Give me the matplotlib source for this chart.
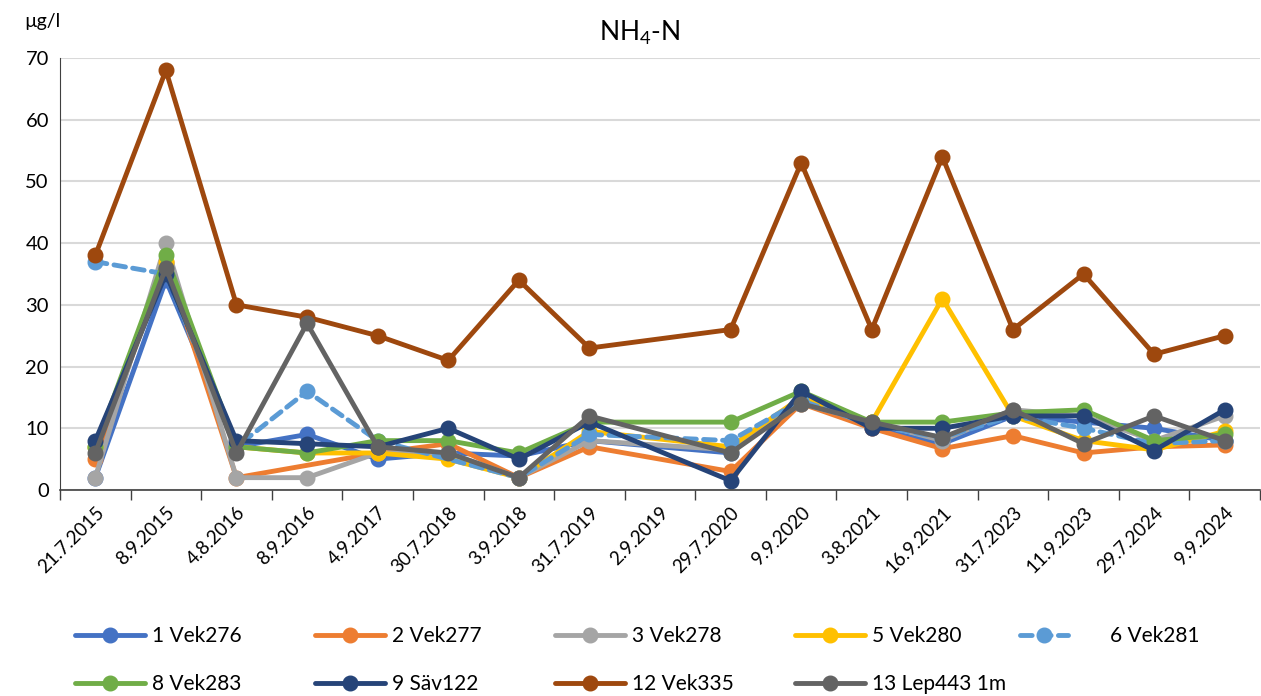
import numpy as np
import matplotlib.pyplot as plt
from matplotlib.lines import Line2D

plt.rcParams['font.family'] = ['Lato', 'DejaVu Sans']
plt.rcParams['mathtext.fontset'] = 'custom'
plt.rcParams['mathtext.rm'] = 'Lato'

nan = np.nan

# categories (sampling dates)
dates = ['21.7.2015', '8.9.2015', '4.8.2016', '8.9.2016', '4.9.2017', '30.7.2018',
         '3.9.2018', '31.7.2019', '2.9.2019', '29.7.2020', '9.9.2020', '3.8.2021',
         '16.9.2021', '31.7.2023', '11.9.2023', '29.7.2024', '9.9.2024']

# NH4-N, ug/l
vek276 = [2, 34, 7, 9, 5, 6, 5.5, 8, nan, 6, 15, 10, 7.5, 12, 11, 10, 8]
vek277 = [5, 37, 2, nan, 6, 7.5, 2, 7, nan, 3, 14, 10, 6.7, 8.8, 6, 7, 7.3]
vek278 = [2, 40, 2, 2, 6, 6, 2, 8, nan, 6.5, 14, 11, 8, 13, 12, 8, 12]
vek280 = [7, 37, 7, 6, 6, 5, 2, 9.5, nan, 7, 15, 11, 31, 12, 8, 6.5, 9.5]
vek281 = [37, 35, 7, 16, 8, nan, 2, 9, nan, 8, 14.5, 10.5, 8.5, 12, 10, 7.5, 8]
vek283 = [7, 38, 7, 6, 8, 8, 6, 11, nan, 11, 16, 11, 11, 12.5, 13, 8, 9]
sav122 = [8, 35, 8, 7.5, 7, 10, 5, 11, nan, 1.5, 16, 10, 10, 12, 12, 6.4, 13]
vek335 = [38, 68, 30, 28, 25, 21, 34, 23, nan, 26, 53, 26, 54, 26, 35, 22, 25]
lep443 = [6, 36, 6, 27, 7, 6, 2, 12, nan, 6, 14, 11, 8.5, 13, 7.5, 12, 8]

series = [
    ('1 Vek276', vek276, '#4472C4', '-'),
    ('2 Vek277', vek277, '#ED7D31', '-'),
    ('3 Vek278', vek278, '#A5A5A5', '-'),
    ('5 Vek280', vek280, '#FFC000', '-'),
    ('6 Vek281', vek281, '#5B9BD5', '--'),
    ('8 Vek283', vek283, '#70AD47', '-'),
    ('9 Säv122', sav122, '#264478', '-'),
    ('12 Vek335', vek335, '#9E480E', '-'),
    ('13 Lep443 1m', lep443, '#636363', '-'),
]

fig = plt.figure(figsize=(12.61, 6.96), dpi=100)
ax = fig.add_axes([60/1261, 1 - 490/696, 1200/1261, 432/696])

x = np.arange(len(dates))
handles = []
for name, vals, col, ls in series:
    v = np.array(vals, dtype=float)
    ok = ~np.isnan(v)
    line, = ax.plot(x[ok], v[ok], color=col, lw=3.5, marker='o', ms=10.5,
                    solid_capstyle='round', dash_capstyle='round')
    if ls == '--':
        line.set_dashes((2.4, 1.5))
    handles.append(Line2D([0], [0], color=col, lw=3.5, marker='o', ms=10.5,
                          solid_capstyle='round', dash_capstyle='round',
                          dashes=(2.4, 1.5) if ls == '--' else (None, None),
                          label=name))

ax.set_xlim(-0.5, len(dates) - 0.5)
ax.set_ylim(0, 70)
ax.set_yticks(range(0, 71, 10))
ax.grid(axis='y', color='#D9D9D9', lw=1.5)
ax.set_axisbelow(True)

ax.set_xticks(x)
ax.set_xticklabels(dates, rotation=45, ha='right', rotation_mode='anchor', fontsize=13.5)
ax.set_xticks(np.arange(-0.5, len(dates)), minor=True)
ax.tick_params(axis='x', which='major', length=0, pad=10)
ax.tick_params(axis='x', which='minor', length=7, color='#404040', width=1)
ax.tick_params(axis='y', length=0, labelsize=14.5, pad=8)

for s in ['top', 'right']:
    ax.spines[s].set_visible(False)
ax.spines['left'].set_color('#404040')
ax.spines['bottom'].set_color('#404040')
ax.spines['bottom'].set_linewidth(1.2)

fig.text(0.5075, 1 - 33/696, r'NH$_\mathregular{4}$-N', ha='center', va='center', fontsize=19)
fig.text(24/1261, 1 - 22/696, 'µg/l', ha='left', va='center', fontsize=14)

# legend: 5 columns, row-major, each column placed by hand
columns = [[0, 5], [1, 6], [2, 7], [3, 8], [4]]
col_x = [75, 315, 555, 795, 1020]
for cx, idx in zip(col_x, columns):
    last = idx == [4]
    fig.legend([handles[i] for i in idx], [handles[i].get_label() for i in idx],
               loc='upper left', bbox_to_anchor=(cx/1261, 1 - 626/696),
               frameon=False, fontsize=15, handlelength=2.3 if last else 3.35,
               handletextpad=2.0 if last else 0.35, labelspacing=1.35,
               borderpad=0, borderaxespad=0)

fig.savefig('out.png', dpi=100)
